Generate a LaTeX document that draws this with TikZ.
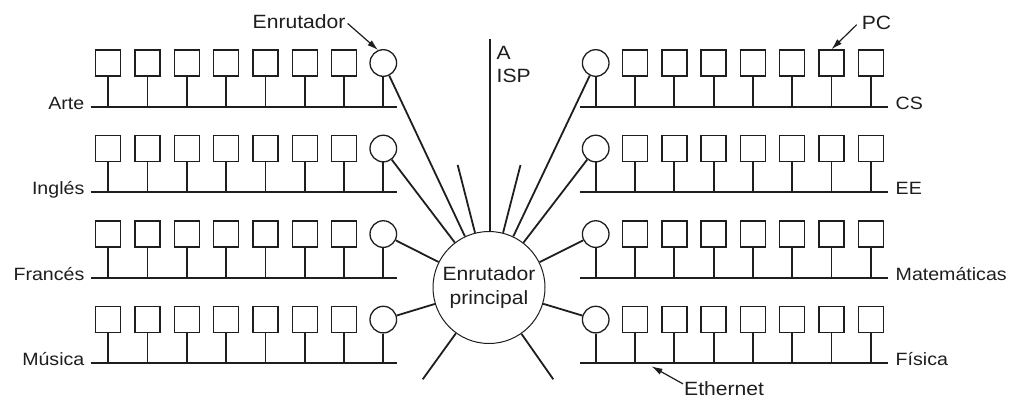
\documentclass[tikz,border=0pt]{standalone}
\usepackage{fontspec}
\setmainfont{Liberation Sans}[FakeStretch=1.1]
\usetikzlibrary{arrows.meta}
\definecolor{ink}{HTML}{1E1E1E}
\tikzset{
  pc/.style={draw=ink, line width=1.4pt, minimum width=25pt, minimum height=26pt, inner sep=0pt},
  rtr/.style={draw=ink, circle, line width=1.3pt, minimum size=26.6pt, inner sep=0pt},
  bus/.style={draw=ink, line width=2pt},
  stem/.style={draw=ink, line width=1.8pt},
  spoke/.style={draw=ink, line width=1.8pt},
  lbl/.style={text=ink, font=\fontsize{17.8}{21}\selectfont, inner sep=0pt},
  big/.style={text=ink, font=\fontsize{19.2}{23.4}\selectfont, inner sep=0pt},
  arr/.style={draw=ink, line width=1.2pt, -{Latex[length=11pt,width=6.5pt]}}
}
\begin{document}
\begin{tikzpicture}[x=1pt,y=-1pt]
\fill[white] (0,0) rectangle (1018,397);
\useasboundingbox (0,0) rectangle (1018,397);
% left departments
\foreach \r/\name in {1/Arte,2/Inglés,3/Francés,4/Música} {
  \pgfmathsetmacro\by{106.7+85.53*(\r-1)}
  \pgfmathsetmacro\cy{\by-43.7}
  \coordinate (LA\r) at (90.7,\by);
  \coordinate (LB\r) at (397.3,\by);
  \draw[bus] (LA\r) -- (LB\r);
  \node[lbl, anchor=base east] (LN\r) at (84.5,\by+2.7) {\name};
  \foreach \k in {1,...,7} {
    \pgfmathsetmacro\px{383.3-39.3*(8-\k)}
    \node[pc] (LP\r-\k) at (\px,\cy) {};
    \draw[stem] (LP\r-\k.south) -- (LP\r-\k.south |- LA\r);
  }
  \node[rtr] (LR\r) at (383.3,\cy) {};
  \draw[stem] (LR\r.south) -- (LR\r.south |- LA\r);
}
% right departments
\foreach \r/\name in {1/CS,2/EE,3/Matemáticas,4/Física} {
  \pgfmathsetmacro\by{106.7+85.53*(\r-1)}
  \pgfmathsetmacro\cy{\by-43.7}
  \coordinate (RA\r) at (580,\by);
  \coordinate (RB\r) at (888.3,\by);
  \draw[bus] (RA\r) -- (RB\r);
  \node[lbl, anchor=base west] (RN\r) at (895.5,\by+2.7) {\name};
  \foreach \k in {1,...,7} {
    \pgfmathsetmacro\px{595.7+39.3*\k}
    \node[pc] (RP\r-\k) at (\px,\cy) {};
    \draw[stem] (RP\r-\k.south) -- (RP\r-\k.south |- RA\r);
  }
  \node[rtr] (RR\r) at (595.7,\cy) {};
  \draw[stem] (RR\r.south) -- (RR\r.south |- RA\r);
}
% main router
\node[circle, draw=ink, line width=1pt, minimum size=112pt, inner sep=0pt, big, align=center] (main) at (489,287.5) {Enrutador\\principal};
\foreach \r in {1,...,4} {
  \draw[spoke] (LR\r) -- (main);
  \draw[spoke] (RR\r) -- (main);
}
% ISP line
\coordinate (ispTop) at (490,39.3);
\draw[spoke] (ispTop) -- (ispTop |- main.north);
\node[big, anchor=north west, align=left] (lblISP) at (496.5,45.6) {A\\ISP};
% free ports
\coordinate (S1) at (457.7,165);
\coordinate (S2) at (520.5,165);
\coordinate (S3) at (422.7,379.3);
\coordinate (S4) at (553.3,379.3);
\foreach \s in {S1,S2,S3,S4} { \draw[spoke] (main) -- (\s); }
% annotations
\node[big, anchor=base west] (lblR) at (252.5,28.3) {Enrutador};
\draw[arr] ([xshift=2pt,yshift=-2pt]lblR.east) -- (LR1.112);
\node[big, anchor=base west] (lblPC) at (861.7,29.3) {PC};
\draw[arr] ([xshift=-5pt,yshift=-2pt]lblPC.west) -- (RP1-6.north);
\node[big, anchor=base west] (lblEth) at (684,395) {Ethernet};
\coordinate (ethTip) at (651.5,366.3);
\draw[arr] ([xshift=-1pt,yshift=-3pt]lblEth.north west) -- (ethTip);
\end{tikzpicture}
\end{document}
